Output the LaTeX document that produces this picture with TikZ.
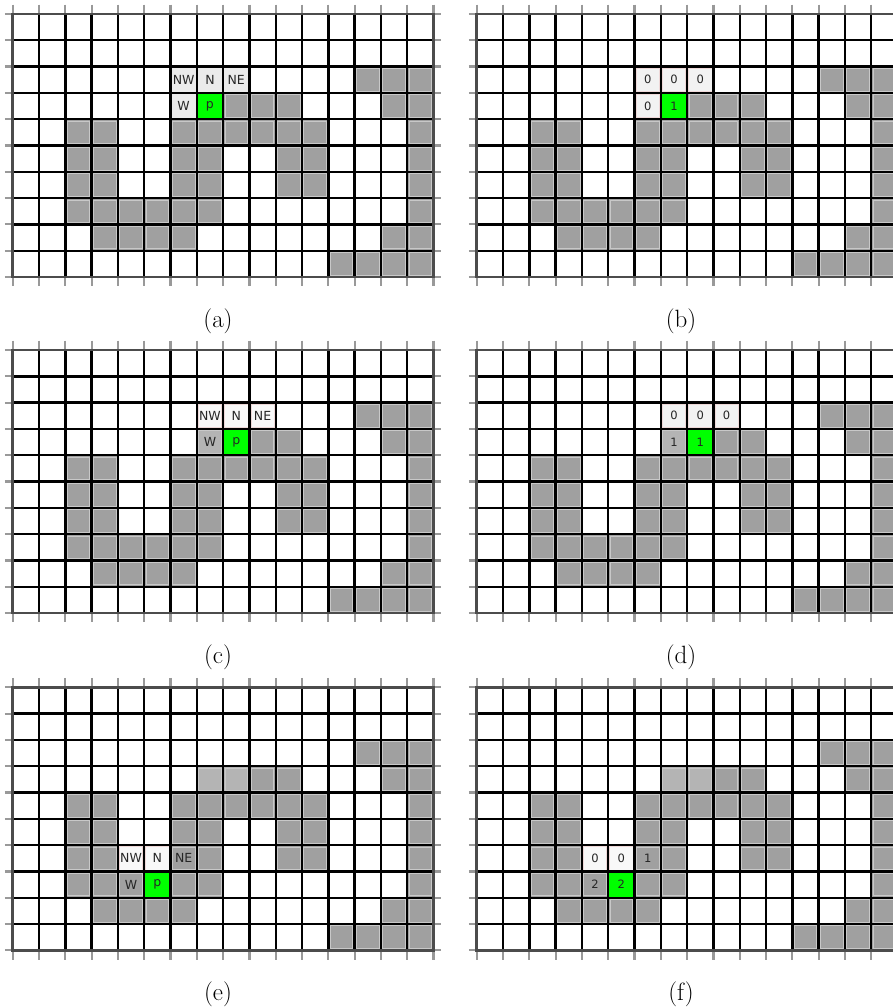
\documentclass[tikz,border=0pt]{standalone}
\usepackage{fontspec}
\newfontfamily\lblfont{DejaVu Sans}
\definecolor{fg}{HTML}{A0A0A0}
\definecolor{fgl}{HTML}{C8C8C8}
\definecolor{labc}{HTML}{B4B4B4}
\definecolor{grn}{HTML}{00FF00}
\definecolor{nbA}{HTML}{EBEBEB}
\definecolor{nbB}{HTML}{F2F2F2}
\definecolor{nbC}{HTML}{F8F8F8}
\definecolor{pinkb}{HTML}{EED8D8}
\tikzset{
  gline/.style={black,line width=2.4pt},
  bline/.style={black!70,line width=2.8pt},
  tickline/.style={black!40,line width=2.2pt},
  lbl/.style={font=\lblfont\fontsize{12.5}{12.5}\selectfont,text=black!85,inner sep=0pt},
  nlbl/.style={font=\lblfont\fontsize{11.5}{11.5}\selectfont,text=black!85,inner sep=0pt},
  captxt/.style={font=\fontsize{25}{25}\selectfont,anchor=base,inner sep=0pt},
}
\newcommand\fgcell[3]{\fill[#3] (#1,#2) rectangle +(1,1);
  \draw[fgl,line width=0.8pt] (#1+0.07,#2+0.07) rectangle (#1+0.93,#2+0.93);}
\newcommand\nbcell[3]{\fill[#3] (#1,#2) rectangle +(1,1);
  \draw[pinkb,line width=0.6pt] (#1+0.06,#2+0.06) rectangle (#1+0.94,#2+0.94);}
\newcommand\greencell[2]{\fill[grn] (#1,#2) rectangle +(1,1);}
\newcommand\basecells{%
  \foreach \c/\r in {13/2,14/2,15/2,
    7/3,8/3,9/3,10/3,14/3,15/3,
    2/4,3/4,6/4,7/4,8/4,9/4,10/4,11/4,15/4,
    2/5,3/5,6/5,7/5,10/5,11/5,15/5,
    2/6,3/6,6/6,7/6,10/6,11/6,15/6,
    2/7,3/7,4/7,5/7,6/7,7/7,15/7,
    3/8,4/8,5/8,6/8,14/8,15/8,
    12/9,13/9,14/9,15/9}{\fgcell{\c}{\r}{fg}}}
\newcommand\gridlines{%
  \foreach \c in {0,...,16}{\draw[tickline] (\c,-0.36) -- (\c,0) (\c,10) -- (\c,10.36);}
  \foreach \r in {0,...,10}{\draw[tickline] (-0.3,\r) -- (0,\r) (16,\r) -- (16.3,\r);}
  \foreach \c in {1,...,15}{\draw[gline] (\c,0) -- (\c,10);}
  \foreach \r in {1,...,9}{\draw[gline] (0,\r) -- (16,\r);}
  \draw[bline] (0,0) rectangle (16,10);}
\begin{document}
\begin{tikzpicture}[x=1pt,y=-1pt]
\useasboundingbox (0,0) rectangle (893,1008);
\clip (0,0) rectangle (893,1008);
\fill[white] (0,0) rectangle (893,1008);
% ---------- (a)
\begin{scope}[shift={(12.7pt,-14pt)},x=26.3pt,y=-26.3pt]
  \basecells
  \foreach \c/\r in {6/2,7/2,8/2,6/3}{\fill[nbA] (\c,\r) rectangle +(1,1);}
  \greencell{7}{3}
  \gridlines
  \node[lbl] (a-nw) at (6.5,2.5) {NW};
  \node[lbl] (a-n)  at (7.5,2.5) {N};
  \node[lbl] (a-ne) at (8.5,2.5) {NE};
  \node[lbl] (a-w)  at (6.5,3.5) {W};
  \node[lbl] (a-p)  at (7.5,3.5) {p};
\end{scope}
\node[captxt] (capa) at (218,327) {(a)};
% ---------- (b)
\begin{scope}[shift={(476.7pt,-14pt)},x=26.3pt,y=-26.3pt]
  \basecells
  \foreach \c/\r in {6/2,7/2,8/2,6/3}{\nbcell{\c}{\r}{nbB}}
  \greencell{7}{3}
  \gridlines
  \node[nlbl] (b-nw) at (6.5,2.5) {0};
  \node[nlbl] (b-n)  at (7.5,2.5) {0};
  \node[nlbl] (b-ne) at (8.5,2.5) {0};
  \node[nlbl] (b-w)  at (6.5,3.5) {0};
  \node[nlbl] (b-p)  at (7.5,3.5) {1};
\end{scope}
\node[captxt] (capb) at (681,327) {(b)};
% ---------- (c)
\begin{scope}[shift={(12.7pt,-350pt)},x=26.3pt,y=-26.3pt]
  \basecells
  \foreach \c/\r in {7/2,8/2,9/2}{\nbcell{\c}{\r}{nbC}}
  \fgcell{7}{3}{labc}
  \greencell{8}{3}
  \gridlines
  \node[lbl] (c-nw) at (7.5,2.5) {NW};
  \node[lbl] (c-n)  at (8.5,2.5) {N};
  \node[lbl] (c-ne) at (9.5,2.5) {NE};
  \node[lbl] (c-w)  at (7.5,3.5) {W};
  \node[lbl] (c-p)  at (8.5,3.5) {p};
\end{scope}
\node[captxt] (capc) at (218,663) {(c)};
% ---------- (d)
\begin{scope}[shift={(476.7pt,-350pt)},x=26.3pt,y=-26.3pt]
  \basecells
  \foreach \c/\r in {7/2,8/2,9/2}{\nbcell{\c}{\r}{nbB}}
  \fgcell{7}{3}{labc}
  \greencell{8}{3}
  \gridlines
  \node[nlbl] (d-nw) at (7.5,2.5) {0};
  \node[nlbl] (d-n)  at (8.5,2.5) {0};
  \node[nlbl] (d-ne) at (9.5,2.5) {0};
  \node[nlbl] (d-w)  at (7.5,3.5) {1};
  \node[nlbl] (d-p)  at (8.5,3.5) {1};
\end{scope}
\node[captxt] (capd) at (681,663) {(d)};
% ---------- (e)
\begin{scope}[shift={(12.7pt,-687.3pt)},x=26.3pt,y=-26.3pt]
  \basecells
  \fgcell{7}{3}{labc}
  \fgcell{8}{3}{labc}
  \foreach \c/\r in {4/6,5/6}{\nbcell{\c}{\r}{nbC}}
  \greencell{5}{7}
  \gridlines
  \node[lbl] (e-nw) at (4.5,6.5) {NW};
  \node[lbl] (e-n)  at (5.5,6.5) {N};
  \node[lbl] (e-ne) at (6.5,6.5) {NE};
  \node[lbl] (e-w)  at (4.5,7.5) {W};
  \node[lbl] (e-p)  at (5.5,7.5) {p};
\end{scope}
\node[captxt] (cape) at (218,1000) {(e)};
% ---------- (f)
\begin{scope}[shift={(476.7pt,-687.3pt)},x=26.3pt,y=-26.3pt]
  \basecells
  \fgcell{7}{3}{labc}
  \fgcell{8}{3}{labc}
  \foreach \c/\r in {4/6,5/6}{\nbcell{\c}{\r}{nbC}}
  \greencell{5}{7}
  \gridlines
  \node[nlbl] (f-nw) at (4.5,6.5) {0};
  \node[nlbl] (f-n)  at (5.5,6.5) {0};
  \node[nlbl] (f-ne) at (6.5,6.5) {1};
  \node[nlbl] (f-w)  at (4.5,7.5) {2};
  \node[nlbl] (f-p)  at (5.5,7.5) {2};
\end{scope}
\node[captxt] (capf) at (681,1000) {(f)};
\end{tikzpicture}
\end{document}
